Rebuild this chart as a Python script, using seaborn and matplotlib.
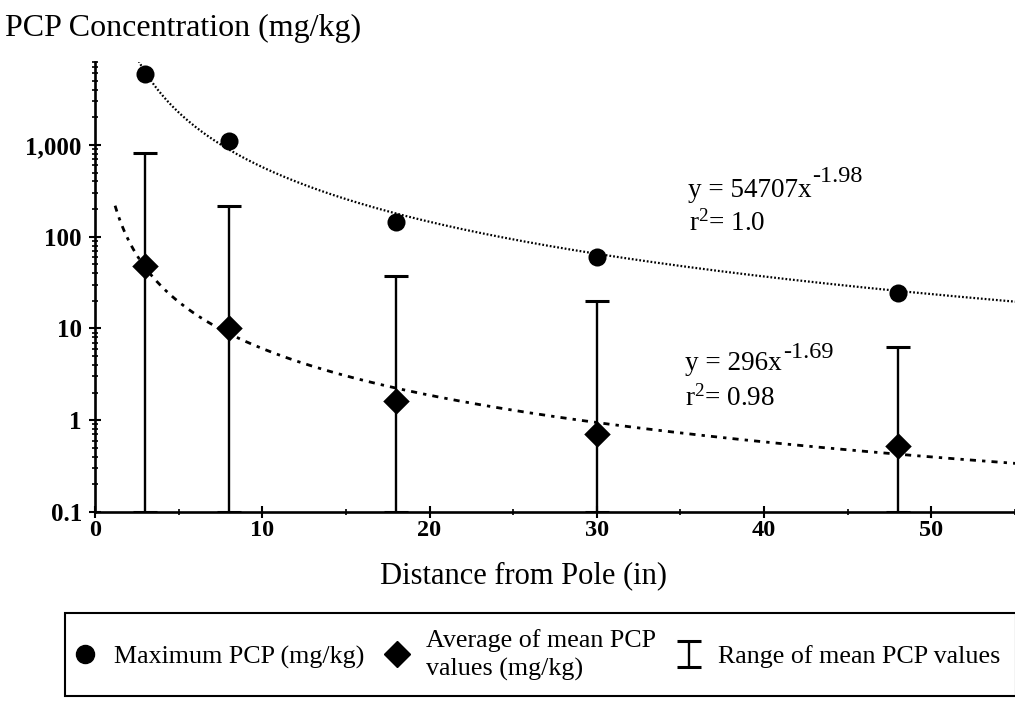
import numpy as np
import matplotlib.pyplot as plt
import seaborn as sns
from matplotlib.lines import Line2D
from matplotlib.ticker import FixedLocator, FuncFormatter, LogLocator, MultipleLocator, NullFormatter

# distance from the pole (in) and PCP values (mg/kg)
distance = [3, 8, 18, 30, 48]
max_pcp = [5900, 1090, 146, 60, 24.5]
mean_pcp = [48, 10, 1.63, 0.70, 0.52]
range_high = [810, 216, 37.6, 20, 6.3]
range_low = [0.1, 0.1, 0.1, 0.1, 0.1]

# power-law trendlines as printed on the chart
fit_max = (54707, -1.98)
fit_mean = (296, -1.69)

y_ticks = [0.1, 1, 10, 100, 1000]
x_ticks = [0, 10, 20, 30, 40, 50]

sns.set_theme(style="ticks")
plt.rcParams['font.family'] = ['Liberation Serif', 'DejaVu Serif']
plt.rcParams['mathtext.fontset'] = 'custom'
plt.rcParams['mathtext.rm'] = 'Liberation Serif'
plt.rcParams['mathtext.it'] = 'Liberation Serif:italic'
plt.rcParams['mathtext.bf'] = 'Liberation Serif:bold'
for key in ['text.color', 'axes.labelcolor', 'xtick.color', 'ytick.color', 'axes.edgecolor']:
    plt.rcParams[key] = 'black'

fig = plt.figure(figsize=(10.15, 7.02), dpi=100)
fig.patch.set_facecolor('white')
ax = fig.add_axes([95/1015, 1-512/702, 920/1015, 450/702])
ax.set_facecolor('white')

# trendlines
xf_max = np.linspace(2.5, 56, 400)
xf_mean = np.linspace(1.2, 56, 400)
sns.lineplot(x=xf_max, y=fit_max[0]*xf_max**fit_max[1], ax=ax, color='black',
             linestyle=(0, (0.8, 0.9)), linewidth=1.6, zorder=2)
sns.lineplot(x=xf_mean, y=fit_mean[0]*xf_mean**fit_mean[1], ax=ax, color='black',
             linestyle=(0, (2.2, 2.2, 1.2, 2.2)), linewidth=2.0, zorder=2)

# range of mean values
mean_arr = np.array(mean_pcp)
err = ax.errorbar(distance, mean_pcp,
                  yerr=[mean_arr - np.array(range_low), np.array(range_high) - mean_arr],
                  fmt='none', ecolor='black', elinewidth=1.7, capsize=8.5, capthick=2.2,
                  zorder=3)

sns.scatterplot(x=distance, y=max_pcp, ax=ax, marker='o', s=13**2, color='black',
                edgecolor='black', linewidth=0, zorder=4)
sns.scatterplot(x=distance, y=mean_pcp, ax=ax, marker='D', s=13.5**2, color='black',
                edgecolor='black', linewidth=0, zorder=4)

ax.set_yscale('log')
ax.set_ylim(0.1, 8000)
ax.set_xlim(0, 55)
ax.set_xlabel('')
ax.set_ylabel('')

ax.yaxis.set_major_locator(FixedLocator(y_ticks))
ax.yaxis.set_major_formatter(FuncFormatter(lambda v, p: f"{v:,.0f}" if v >= 1 else f"{v:g}"))
ax.yaxis.set_minor_locator(LogLocator(base=10, subs=np.arange(2, 10)))
ax.yaxis.set_minor_formatter(NullFormatter())
ax.xaxis.set_major_locator(FixedLocator(x_ticks))
ax.xaxis.set_minor_locator(MultipleLocator(5))

ax.tick_params(axis='y', which='major', direction='inout', length=9, width=1.5,
               labelsize=18, pad=5, colors='black')
ax.tick_params(axis='y', which='minor', direction='inout', length=4, width=1.2, colors='black')
ax.tick_params(axis='x', which='major', direction='inout', length=8, width=1.5,
               labelsize=17.5, pad=2, colors='black')
ax.tick_params(axis='x', which='minor', direction='inout', length=4, width=1.2, colors='black')
for lab in ax.get_xticklabels() + ax.get_yticklabels():
    lab.set_fontweight('bold')

sns.despine(ax=ax)
for side in ['left', 'bottom']:
    ax.spines[side].set_linewidth(1.9)
    ax.spines[side].set_color('black')

# equations
t1 = ax.text(35.45, 271, "y = 54707x", fontsize=19.5, va='baseline', ha='left')
ax.annotate("-1.98", xy=(1, 0), xycoords=t1, xytext=(0.5, 15), textcoords='offset points',
            fontsize=17.5, va='baseline', ha='left')
ax.text(35.5, 116, r"r$^{2}$= 1.0", fontsize=19.5, va='baseline', ha='left')

t2 = ax.text(35.3, 3.52, "y = 296x", fontsize=19.5, va='baseline', ha='left')
ax.annotate("-1.69", xy=(1, 0), xycoords=t2, xytext=(0.5, 13), textcoords='offset points',
            fontsize=17.5, va='baseline', ha='left')
ax.text(35.3, 1.46, r"r$^{2}$= 0.98", fontsize=19.5, va='baseline', ha='left')

# titles
fig.text(5/1015, 1-36/702, "PCP Concentration (mg/kg)", fontsize=23, va='baseline', ha='left')
fig.text(524/1015, 1-583/702, "Distance from Pole (in)", fontsize=22, va='baseline', ha='center')

# legend
h_max = Line2D([], [], linestyle='none', marker='o', markersize=13, color='black')
h_mean = Line2D([], [], linestyle='none', marker='D', markersize=13.5, color='black')
leg = fig.legend([h_max, h_mean, err],
                 ["Maximum PCP (mg/kg)", "Average of mean PCP\nvalues (mg/kg)",
                  "Range of mean PCP values"],
                 loc='upper left', bbox_to_anchor=(64.5/1015, 1-613/702),
                 bbox_transform=fig.transFigure, ncol=3, fontsize=18.7,
                 frameon=True, fancybox=False, framealpha=1, edgecolor='black',
                 borderpad=0.6, handlelength=0.4, handletextpad=0.9,
                 columnspacing=1.08, borderaxespad=0)
leg.get_frame().set_linewidth(1.5)
for t in leg.get_texts():
    t.set_linespacing(1.35)

fig.savefig('out.png', dpi=100, facecolor='white')
